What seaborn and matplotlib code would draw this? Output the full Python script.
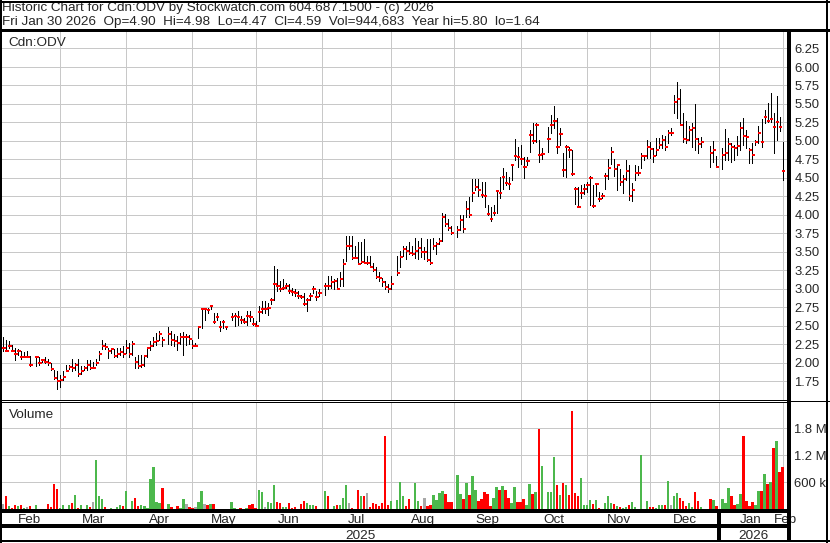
import numpy as np
import pandas as pd
import matplotlib
matplotlib.use("Agg")
import matplotlib.pyplot as plt
import matplotlib.transforms as mtrans
import seaborn as sns

# ---------------- data ----------------
title_line = "Historic Chart for Cdn:ODV by Stockwatch.com 604.687.1500 - (c) 2026"
quote_line = "Fri Jan 30 2026  Op=4.90  Hi=4.98  Lo=4.47  Cl=4.59  Vol=944,683  Year hi=5.80  lo=1.64"
symbol = "Cdn:ODV"
volume_title = "Volume"
first_day, last_day = "2025-02-03", "2026-01-30"
holidays = ["2025-02-17", "2025-04-18", "2025-05-19", "2025-07-01", "2025-08-04",
            "2025-09-01", "2025-10-13", "2025-12-25", "2025-12-26", "2026-01-01"]

high = [
    # Feb
    2.35, 2.30, 2.29, 2.24, 2.19, 2.18, 2.16, 2.14, 2.16, 2.09, 2.08, 2.08, 2.05, 2.07, 2.05, 1.99, 1.90, 1.89, 1.83,
    # Mar
    1.88, 1.97, 1.97, 2.05, 1.99, 2.05, 1.95, 1.95, 2.04, 2.04, 2.01, 2.05, 2.15, 2.30, 2.26, 2.20, 2.20, 2.18, 2.20, 2.20, 2.22,
    # Apr
    2.31, 2.26, 2.29, 2.08, 2.10, 2.10, 2.10, 2.20, 2.29, 2.35, 2.40, 2.42, 2.35, 2.48, 2.42, 2.38, 2.36, 2.40, 2.41, 2.38, 2.37,
    # May
    2.30, 2.27, 2.49, 2.74, 2.74, 2.74, 2.78, 2.67, 2.67, 2.56, 2.58, 2.49, 2.67, 2.67, 2.70, 2.63, 2.60, 2.70, 2.70, 2.60, 2.56,
    # Jun
    2.76, 2.83, 2.83, 2.81, 2.88, 3.30, 3.26, 3.10, 3.13, 3.08, 3.06, 3.01, 2.99, 2.97, 2.92, 2.94, 2.88, 2.94, 3.03, 2.97, 2.99,
    # Jul
    3.08, 3.17, 3.17, 3.13, 3.15, 3.22, 3.40, 3.71, 3.71, 3.71, 3.58, 3.63, 3.63, 3.67, 3.44, 3.44, 3.35, 3.29, 3.22, 3.15, 3.10, 3.06,
    # Aug
    3.17, 3.44, 3.51, 3.58, 3.58, 3.63, 3.58, 3.69, 3.65, 3.69, 3.56, 3.67, 3.67, 3.69, 3.63, 3.69, 4.03, 4.01, 3.94, 3.85,
    # Sep
    3.85, 4.00, 4.00, 4.19, 4.24, 4.49, 4.49, 4.49, 4.44, 4.44, 4.13, 4.10, 4.13, 4.33, 4.51, 4.63, 4.58, 4.51, 4.68, 5.02, 4.92,
    # Oct
    4.94, 4.78, 4.78, 5.15, 5.24, 5.24, 5.01, 4.90, 5.19, 5.35, 5.47, 5.31, 5.17, 4.83, 4.94, 4.92, 4.87, 4.38, 4.38, 4.40, 4.41, 4.44,
    # Nov
    4.53, 4.40, 4.42, 4.31, 4.30, 4.56, 4.76, 4.91, 4.76, 4.69, 4.62, 4.54, 4.74, 4.67, 4.43, 4.67, 4.66, 4.84, 4.81, 5.01,
    # Dec
    4.99, 4.90, 5.04, 5.04, 5.08, 5.06, 5.15, 5.17, 5.62, 5.80, 5.70, 5.38, 5.27, 5.20, 5.24, 5.50, 5.04, 5.05, 4.93, 5.00, 4.79,
    # Jan
    4.90, 5.16, 5.04, 4.97, 4.95, 5.06, 5.26, 5.31, 5.15, 4.90, 4.97, 5.01, 5.20, 5.29, 5.42, 5.51, 5.65, 5.38, 5.61, 5.32, 4.98,
]
low = [
    2.15, 2.15, 2.19, 2.16, 2.04, 2.10, 2.05, 2.07, 2.07, 1.95, 1.95, 1.97, 2.01, 1.99, 1.97, 1.90, 1.78, 1.64, 1.67,
    1.76, 1.88, 1.91, 1.88, 1.90, 1.82, 1.85, 1.90, 1.90, 1.91, 1.92, 1.97, 2.04, 2.18, 2.18, 2.06, 2.13, 2.08, 2.08, 2.10, 2.08,
    2.13, 2.08, 2.10, 1.92, 1.92, 1.94, 1.95, 2.08, 2.17, 2.22, 2.24, 2.31, 2.22, 2.25, 2.24, 2.22, 2.17, 2.25, 2.10, 2.24, 2.25,
    2.20, 2.22, 2.33, 2.47, 2.58, 2.67, 2.72, 2.54, 2.58, 2.42, 2.47, 2.45, 2.58, 2.49, 2.51, 2.54, 2.54, 2.51, 2.56, 2.51, 2.49,
    2.56, 2.67, 2.67, 2.65, 2.79, 2.85, 2.97, 2.97, 2.99, 3.01, 2.94, 2.92, 2.90, 2.88, 2.88, 2.78, 2.70, 2.85, 2.94, 2.85, 2.90,
    2.92, 2.99, 3.01, 2.99, 2.99, 3.04, 3.04, 3.38, 3.54, 3.40, 3.42, 3.33, 3.35, 3.35, 3.33, 3.29, 3.24, 3.15, 3.10, 3.04, 2.99, 2.95,
    2.99, 3.19, 3.29, 3.44, 3.40, 3.47, 3.46, 3.42, 3.40, 3.43, 3.40, 3.38, 3.33, 3.54, 3.47, 3.60, 3.65, 3.85, 3.79, 3.74,
    3.70, 3.79, 3.76, 3.97, 3.97, 4.19, 4.33, 4.26, 4.24, 4.10, 3.99, 3.92, 3.99, 4.03, 4.22, 4.35, 4.40, 4.35, 4.47, 4.74, 4.65,
    4.69, 4.50, 4.67, 4.85, 4.97, 4.99, 4.72, 4.76, 4.85, 5.10, 5.17, 4.83, 4.94, 4.53, 4.51, 4.78, 4.54, 4.15, 4.10, 4.22, 4.28, 4.31,
    4.13, 4.11, 4.26, 4.19, 4.22, 4.35, 4.49, 4.69, 4.53, 4.33, 4.40, 4.30, 4.47, 4.20, 4.18, 4.47, 4.54, 4.63, 4.74, 4.77,
    4.77, 4.72, 4.81, 4.90, 4.90, 4.88, 4.97, 5.08, 5.38, 5.31, 5.21, 4.99, 4.97, 5.01, 4.92, 4.88, 4.84, 4.92, 4.65, 4.72, 4.64,
    4.62, 4.74, 4.74, 4.72, 4.74, 4.81, 4.88, 4.95, 4.90, 4.70, 4.70, 4.95, 4.97, 4.91, 5.24, 5.26, 5.26, 4.84, 5.01, 5.13, 4.47,
]
close = [
    2.19, 2.15, 2.22, 2.16, 2.11, 2.15, 2.07, 2.08, 2.08, 1.97, 2.07, 1.99, 2.03, 2.01, 1.99, 1.91, 1.79, 1.75, 1.77,
    1.80, 1.89, 1.94, 1.92, 1.96, 1.84, 1.89, 1.93, 1.96, 1.93, 1.93, 2.00, 2.12, 2.23, 2.21, 2.15, 2.18, 2.09, 2.11, 2.14, 2.12,
    2.19, 2.12, 2.25, 2.01, 1.95, 1.96, 2.09, 2.19, 2.22, 2.28, 2.29, 2.38, 2.31, 2.39, 2.31, 2.29, 2.26, 2.34, 2.35, 2.35, 2.32,
    2.23, 2.23, 2.48, 2.73, 2.73, 2.71, 2.76, 2.55, 2.62, 2.48, 2.55, 2.48, 2.61, 2.63, 2.61, 2.57, 2.55, 2.63, 2.61, 2.52, 2.50,
    2.69, 2.72, 2.72, 2.74, 2.84, 3.06, 3.04, 2.99, 3.01, 3.04, 2.97, 2.95, 2.94, 2.90, 2.89, 2.79, 2.84, 2.90, 3.00, 2.89, 2.94,
    3.04, 3.03, 3.09, 3.10, 3.00, 3.13, 3.34, 3.58, 3.58, 3.41, 3.42, 3.34, 3.36, 3.35, 3.35, 3.29, 3.25, 3.16, 3.15, 3.09, 3.02, 2.99,
    3.06, 3.21, 3.43, 3.53, 3.51, 3.48, 3.47, 3.51, 3.55, 3.50, 3.50, 3.39, 3.35, 3.58, 3.60, 3.64, 3.97, 3.88, 3.82, 3.75,
    3.80, 3.93, 3.81, 4.08, 4.00, 4.30, 4.37, 4.33, 4.27, 4.26, 4.01, 3.94, 4.03, 4.32, 4.29, 4.51, 4.43, 4.41, 4.67, 4.79, 4.78,
    4.76, 4.64, 4.73, 5.08, 5.00, 5.22, 4.81, 4.82, 5.02, 5.22, 5.27, 4.92, 5.09, 4.60, 4.92, 4.87, 4.55, 4.35, 4.11, 4.29, 4.35, 4.40,
    4.50, 4.12, 4.41, 4.21, 4.26, 4.52, 4.63, 4.85, 4.62, 4.67, 4.44, 4.48, 4.59, 4.25, 4.34, 4.56, 4.57, 4.80, 4.79, 4.92,
    4.89, 4.80, 4.88, 4.95, 5.01, 4.91, 5.10, 5.10, 5.53, 5.57, 5.22, 5.03, 5.01, 5.15, 5.17, 5.03, 4.96, 4.99, 4.84, 4.87, 4.65,
    4.81, 4.84, 4.96, 4.91, 4.90, 4.93, 5.17, 5.07, 5.05, 4.87, 4.81, 4.98, 5.10, 4.99, 5.32, 5.27, 5.30, 5.19, 5.26, 5.19, 4.59,
]
volume_k = [
    107, 285, 69, 31, 100, 77, 100, 31, 54, 69, 100, 8, 5, 8, 123, 54, 561, 446, 31,
    100, 15, 100, 131, 308, 31, 100, 8, 100, 54, 169, 1090, 285, 238, 54, 8, 31, 8, 54, 100, 77,
    400, 8, 192, 261, 77, 100, 77, 31, 677, 930, 169, 146, 469, 123, 54, 8, 77, 31, 238, 123, 54,
    31, 54, 169, 400, 123, 100, 123, 123, 10, 5, 8, 5, 169, 31, 8, 31, 5, 31, 100, 123, 31,
    423, 377, 54, 169, 146, 538, 169, 146, 54, 54, 146, 31, 54, 5, 123, 192, 146, 100, 100, 77, 5,
    400, 285, 5, 77, 100, 100, 261, 538, 146, 31, 5, 423, 285, 285, 354, 54, 146, 123, 77, 146, 1620, 100,
    192, 200, 608, 285, 77, 238, 8, 585, 192, 77, 261, 77, 100, 308, 215, 354, 400, 331, 169, 169,
    769, 331, 238, 585, 308, 746, 423, 192, 238, 377, 331, 77, 261, 492, 423, 515, 423, 261, 146, 492, 169,
    169, 238, 100, 561, 331, 377, 1780, 954, 377, 377, 1160, 538, 308, 585, 538, 308, 2180, 354, 285, 700, 100, 100,
    215, 123, 215, 31, 8, 146, 285, 146, 123, 77, 54, 31, 54, 100, 169, 54, 8, 1210, 5, 192,
    54, 54, 31, 100, 100, 100, 631, 100, 285, 354, 261, 192, 77, 146, 54, 377, 192, 54, 238, 215, 77,
    238, 146, 469, 285, 100, 123, 331, 1620, 192, 77, 169, 100, 400, 400, 792, 561, 608, 1370, 1510, 838, 945,
]
price_ticks = [1.75, 2.00, 2.25, 2.50, 2.75, 3.00, 3.25, 3.50, 3.75, 4.00,
               4.25, 4.50, 4.75, 5.00, 5.25, 5.50, 5.75, 6.00, 6.25]
volume_ticks = [600_000, 1_200_000, 1_800_000]
volume_tick_labels = ["600 k", "1.2 M", "1.8 M"]

# ---------------- styling ----------------
sns.set_style("white")
plt.rcParams["font.family"] = ["Liberation Sans", "DejaVu Sans"]
FS_TXT = 9.7
FS_NUM = 9.4
GREEN, RED, GREY = "#4cb84c", "#ff0000", "#a8a8a8"
GRID = "#c8c8c8"
W, H = 830, 543
PX = 0.72  # points per pixel at 100 dpi

fig = plt.figure(figsize=(W / 100, H / 100), dpi=100)


def rect(x0, y0, x1, y1):
    return [x0 / W, 1 - y1 / H, (x1 - x0) / W, (y1 - y0) / H]


ax_p = fig.add_axes(rect(1.5, 31.7, 788.0, 400.0))
ax_v = fig.add_axes(rect(1.5, 403.0, 788.0, 509.3))
ax_o = fig.add_axes([0, 0, 1, 1])
ax_o.set_xlim(0, W)
ax_o.set_ylim(H, 0)
ax_o.axis("off")
ax_o.patch.set_alpha(0)

# ---------------- x positions: weekday slots, holidays leave gaps ----------------
weekdays = pd.bdate_range(first_day, last_day)
slot_of = pd.Series(np.arange(len(weekdays)), index=weekdays)
trade_days = weekdays[~weekdays.isin(pd.to_datetime(holidays))]
x = slot_of[trade_days].to_numpy().astype(float)

xmin, xmax = -0.43, 260.8
month_starts = pd.date_range("2025-02-01", "2026-02-01", freq="MS")
month_slots = np.array([weekdays.searchsorted(m, side="right") - 1 for m in month_starts], dtype=float)
month_labels = [m.strftime("%b") for m in month_starts]

hi = np.array(high)
lo = np.array(low)
cl = np.array(close)
vol = np.array(volume_k) * 1000.0
diff = np.diff(cl, prepend=np.nan)
move = np.where(diff > 1e-9, "up", np.where(diff < -1e-9, "down", "flat"))

# ---------------- price panel ----------------
ax_p.set_xlim(xmin, xmax)
ax_p.set_ylim(1.493, 6.477)
ax_p.set_yticks(price_ticks)
ax_p.set_xticks(month_slots[month_slots > xmin])
ax_p.grid(True, color=GRID, lw=PX, antialiased=False)
ax_p.set_axisbelow(True)
ax_p.vlines(x, lo, hi, colors="black", lw=0.65, antialiased=False, zorder=3)
ax_p.hlines(cl, x - 0.15, x + 0.95, colors=RED, lw=1.4, antialiased=False, zorder=4)

# ---------------- volume panel ----------------
vol_df = pd.DataFrame({"slot": x, "volume": vol, "move": move})
sns.barplot(data=vol_df, x="slot", y="volume", hue="move", hue_order=["up", "down", "flat"],
            palette={"up": GREEN, "down": RED, "flat": GREY}, native_scale=True,
            width=0.8, dodge=False, errorbar=None, saturation=1, linewidth=0,
            legend=False, ax=ax_v)
ax_v.set_xlim(xmin, xmax)
ax_v.set_ylim(0, 2.362e6)
ax_v.set_yticks(volume_ticks)
ax_v.set_xticks(month_slots[month_slots > xmin])
ax_v.grid(True, color=GRID, lw=PX, antialiased=False)
ax_v.set_axisbelow(True)

for ax in (ax_p, ax_v):
    ax.set_xlabel("")
    ax.set_ylabel("")
    ax.tick_params(left=False, bottom=False, labelleft=False, labelbottom=False)
    for s in ax.spines.values():
        s.set_visible(False)

# ---------------- texts ----------------
ax_o.text(2, 10.8, title_line, fontsize=FS_TXT, va="baseline", ha="left")
ax_o.text(2, 24.5, quote_line, fontsize=FS_TXT, va="baseline", ha="left")
ax_o.text(8.3, 46.3, symbol, fontsize=FS_TXT, va="baseline", ha="left")
ax_o.text(9.3, 418.3, volume_title, fontsize=FS_TXT, va="baseline", ha="left")

for t in price_ticks:
    ypx = H - ax_p.transData.transform((0, t))[1]
    ax_o.text(794.5, ypx + 4.6, f"{t:.2f}", fontsize=FS_NUM, va="baseline", ha="left")
for t, lab in zip(volume_ticks, volume_tick_labels):
    ypx = H - ax_v.transData.transform((0, t))[1]
    ax_o.text(794.0, ypx + 4.6, lab, fontsize=FS_NUM, va="baseline", ha="left")

blend = mtrans.blended_transform_factory(ax_v.transData, ax_o.transData)
bounds = list(month_slots) + [xmax]
for i, lab in enumerate(month_labels):
    left = max(bounds[i], -1.0)
    cx = (left + bounds[i + 1]) / 2
    ax_o.text(cx, 523.3, lab, fontsize=FS_TXT, va="baseline", ha="center", transform=blend, zorder=2)
jan_slot = month_slots[month_labels.index("Jan")]
ax_o.text((xmin + jan_slot) / 2, 539.3, "2025", fontsize=FS_TXT, va="baseline", ha="center", transform=blend)
ax_o.text((jan_slot + xmax) / 2, 539.3, "2026", fontsize=FS_TXT, va="baseline", ha="center", transform=blend)

# ---------------- frame lines (pixel coordinates) ----------------
def hline(y, x0, x1, w):
    ax_o.plot([x0, x1], [y, y], color="black", lw=w * PX, solid_capstyle="butt",
              antialiased=False, zorder=10)


def vline(xp, y0, y1, w):
    ax_o.plot([xp, xp], [y0, y1], color="black", lw=w * PX, solid_capstyle="butt",
              antialiased=False, zorder=10)


hline(1.5, 0, W, 2)
hline(541.2, 0, W, 2)
vline(0.7, 0, H, 1.5)
vline(827.0, 0, H, 2)
hline(30.3, 0, W, 3)
vline(789.0, 30, 541, 2.3)
hline(400.3, 0, 789, 1)
hline(402.3, 0, 789, 1)
hline(400.5, 789, W, 1)
hline(510.5, 0, 789, 2.3)
hline(526.2, 0, 789, 2.3)
jan_px = ax_v.transData.transform((jan_slot, 0))[0]
vline(jan_px, 510, 541, 2.3)

fig.savefig("out.png", dpi=100)
